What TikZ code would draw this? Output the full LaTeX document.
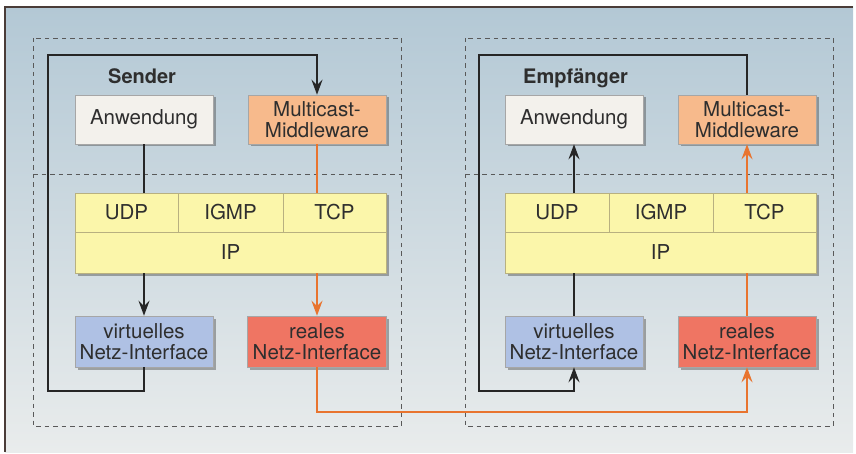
\documentclass[tikz,border=0pt]{standalone}
\usepackage{fontspec}
\setmainfont{TeX Gyre Heros}
\usetikzlibrary{arrows.meta,shadows}
\definecolor{txt}{HTML}{2E2E2E}
\definecolor{bgtop}{HTML}{B3C8D5}
\definecolor{bgbot}{HTML}{E9ECEC}
\definecolor{frame}{HTML}{4A3C38}
\definecolor{appfill}{HTML}{F3F1EC}
\definecolor{mwfill}{HTML}{F7BA8C}
\definecolor{stackfill}{HTML}{FBF6AA}
\definecolor{vnifill}{HTML}{AFC1E4}
\definecolor{rnifill}{HTML}{EF7563}
\definecolor{wire}{HTML}{E8742F}
\definecolor{cellline}{HTML}{B8B080}
\tikzset{
  x=1pt, y=-1pt,
  every node/.style={font=\fontsize{20.5}{20.5}\selectfont, text=txt, align=center, inner sep=0pt},
  layerbox/.style={draw=black!35, line width=0.5pt, minimum height=49pt, minimum width=138pt,
    drop shadow={shadow xshift=2.5pt, shadow yshift=-2.5pt, opacity=0.45, fill=black!70}},
  cell/.style={draw=cellline, line width=0.5pt, fill=stackfill, minimum height=39pt},
  zone/.style={draw=black!65, dashed, dash pattern=on 4.5pt off 4pt, line width=0.8pt},
  ctl/.style={draw=black!85, line width=1.6pt},
  net/.style={draw=wire, line width=1.6pt},
  tip/.style={-{Stealth[length=15pt,width=11pt,inset=5.5pt]}},
}
\begin{document}
\begin{tikzpicture}
\useasboundingbox (0,0) rectangle (856,454);
% backdrop with a top/left frame edge
\shade[top color=bgtop, bottom color=bgbot] (5,7) rectangle (853,452);
\draw[frame, line width=1.6pt] (5,452) -- (5,7) -- (853,7);

% host zones, each split into middleware and kernel parts
\draw[zone] (33,38) rectangle (401,426);
\draw[zone] (33,174) -- (401,174);
\draw[zone] (465,38) rectangle (833,426);
\draw[zone] (465,174) -- (833,174);

% ---------- sender ----------
\node[anchor=base west, font=\fontsize{20}{20}\selectfont\bfseries] (sndlabel) at (108,83.5) {Sender};
\node[layerbox, fill=appfill] (anwL) at (144,119.5) {Anwendung};
\node[layerbox, fill=mwfill] (midL) at (317,119.5) {Multicast-\\Middleware};
\node[draw=black!35, fill=stackfill, minimum width=311pt, minimum height=80pt,
      drop shadow={shadow xshift=2.5pt, shadow yshift=-2.5pt, opacity=0.45, fill=black!70}] (stkL) at (230.5,233) {};
\node[cell, minimum width=103pt] (udpL) at (126.5,212.5) {UDP};
\node[cell, minimum width=105pt] (igmpL) at (230.5,212.5) {IGMP};
\node[cell, minimum width=103pt] (tcpL) at (334.5,212.5) {TCP};
\node[cell, minimum width=311pt, minimum height=41pt] (ipL) at (230.5,252.5) {IP};
\node[layerbox, fill=vnifill, minimum height=51pt] (virtL) at (144,341.5) {virtuelles\\Netz-Interface};
\node[layerbox, fill=rnifill, minimum height=51pt, minimum width=139pt] (realL) at (317,341.5) {reales\\Netz-Interface};

% ---------- receiver ----------
\node[anchor=base west, font=\fontsize{20}{20}\selectfont\bfseries] (rcvlabel) at (523,83.5) {Empfänger};
\node[layerbox, fill=appfill] (anwR) at (574,119.5) {Anwendung};
\node[layerbox, fill=mwfill] (midR) at (747,119.5) {Multicast-\\Middleware};
\node[draw=black!35, fill=stackfill, minimum width=311pt, minimum height=80pt,
      drop shadow={shadow xshift=2.5pt, shadow yshift=-2.5pt, opacity=0.45, fill=black!70}] (stkR) at (660.5,233) {};
\node[cell, minimum width=104pt] (udpR) at (557,212.5) {UDP};
\node[cell, minimum width=104pt] (igmpR) at (661,212.5) {IGMP};
\node[cell, minimum width=103pt] (tcpR) at (764.5,212.5) {TCP};
\node[cell, minimum width=311pt, minimum height=41pt] (ipR) at (660.5,252.5) {IP};
\node[layerbox, fill=vnifill, minimum height=51pt] (virtR) at (574,341.5) {virtuelles\\Netz-Interface};
\node[layerbox, fill=rnifill, minimum height=51pt] (realR) at (747,341.5) {reales\\Netz-Interface};

% loop-back corners and the wire between hosts
\coordinate (lb) at (48,391);
\coordinate (lt) at (48,55);
\coordinate (rt) at (479,55);
\coordinate (rb) at (479,391);
\coordinate (wire) at (530,412);

% sender paths
\draw[ctl] (anwL.south) -- (anwL.south |- udpL.north);
\draw[ctl, tip] (ipL.south -| anwL.south) -- (virtL.north);
\draw[ctl, tip] (virtL.south) |- (lb) -- (lt) -| (midL.north);
\draw[net] (midL.south) -- (midL.south |- tcpL.north);
\draw[net, tip] (ipL.south -| midL.south) -- (realL.north);

% wire
\draw[net, tip] (realL.south) |- (wire) -| (realR.south);

% receiver paths
\draw[ctl] (virtR.north) -- (virtR.north |- ipR.south);
\draw[ctl, tip] (anwR.south |- udpR.north) -- (anwR.south);
\draw[ctl, tip] (midR.north) |- (rt) -- (rb) -| (virtR.south);
\draw[net] (realR.north) -- (realR.north |- ipR.south);
\draw[net, tip] (midR.south |- tcpR.north) -- (midR.south);
\end{tikzpicture}
\end{document}
